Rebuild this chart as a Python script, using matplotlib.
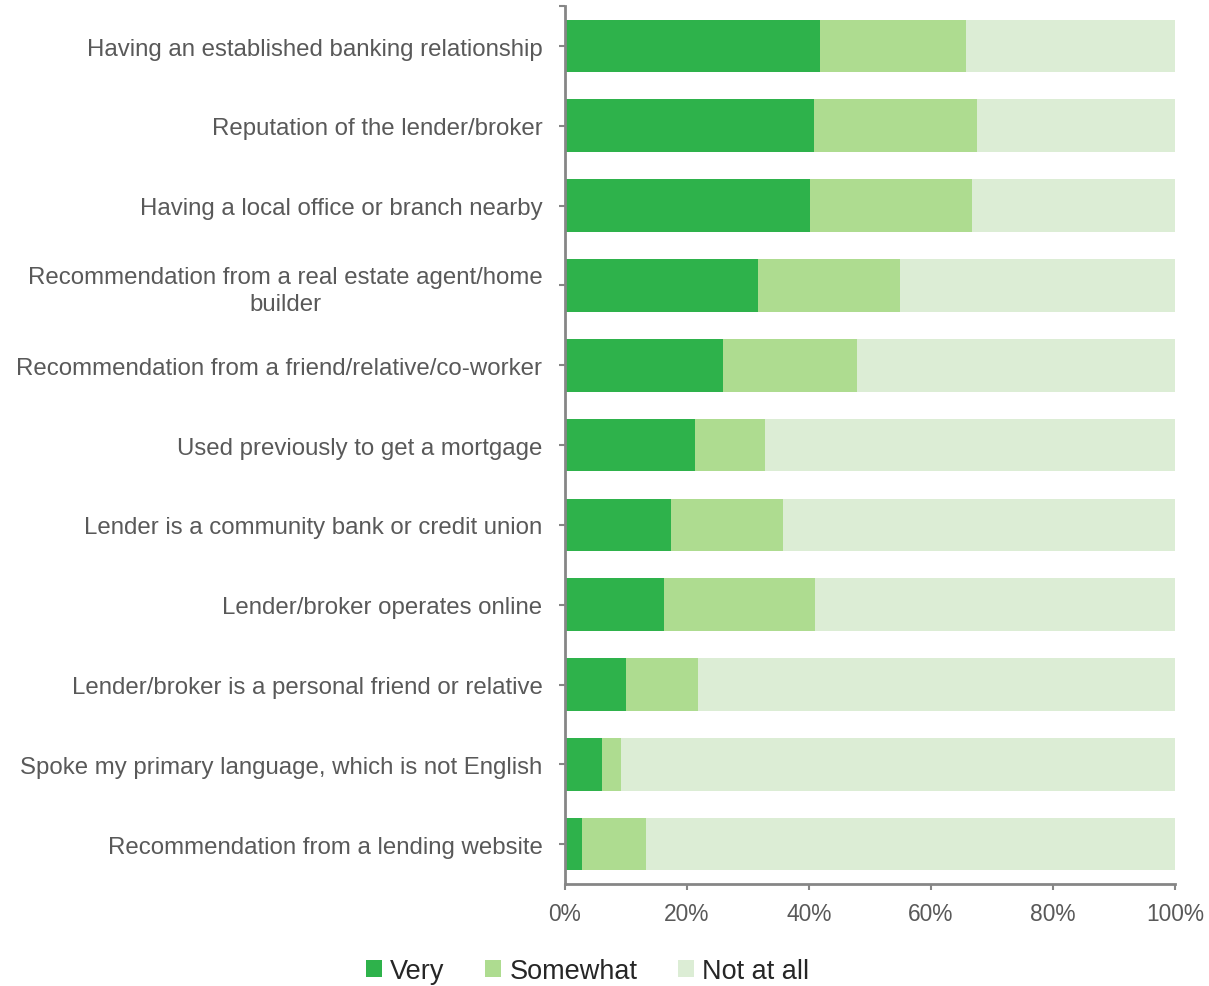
import matplotlib
matplotlib.use("Agg")
import matplotlib.pyplot as plt
import numpy as np

plt.rcParams["font.family"] = ["Liberation Sans", "DejaVu Sans"]

categories = [
    "Having an established banking relationship",
    "Reputation of the lender/broker",
    "Having a local office or branch nearby",
    "Recommendation from a real estate agent/home\nbuilder",
    "Recommendation from a friend/relative/co-worker",
    "Used previously to get a mortgage",
    "Lender is a community bank or credit union",
    "Lender/broker operates online",
    "Lender/broker is a personal friend or relative",
    "Spoke my primary language, which is not English",
    "Recommendation from a lending website",
]
very = [41.8, 40.8, 40.2, 31.6, 25.9, 21.3, 17.4, 16.2, 10.0, 6.1, 2.8]
somewhat = [23.9, 26.7, 26.5, 23.3, 22.0, 11.5, 18.3, 24.8, 11.8, 3.2, 10.5]
not_at_all = [100 - v - s for v, s in zip(very, somewhat)]

series = [("Very", very, "#2eb24b"),
          ("Somewhat", somewhat, "#aedc90"),
          ("Not at all", not_at_all, "#dcedd5")]

fig = plt.figure(figsize=(12.09, 9.87), dpi=100)
ax = fig.add_axes([0.467, 0.1033, 0.505, 0.8895])

y = np.arange(len(categories))
left = np.zeros(len(categories))
for name, vals, color in series:
    vals = np.array(vals)
    ax.barh(y, vals, left=left, height=0.66, color=color, label=name)
    left += vals

ax.set_ylim(len(categories) - 0.5, -0.5)
ax.set_xlim(0, 100)
ax.set_yticks(y)
ax.set_yticks([-0.5], minor=True)
ax.set_yticklabels(categories, fontsize=17.3, color="#595959",
                   ha="right", multialignment="center", linespacing=1.3)
ax.set_xticks(np.arange(0, 101, 20))
ax.set_xticklabels([f"{v}%" for v in range(0, 101, 20)], fontsize=16.4, color="#595959")
ax.tick_params(axis="both", which="both", length=4, width=1.5, color="#868686")
ax.tick_params(axis="y", pad=12)
ax.tick_params(axis="x", pad=9)

for side in ("top", "right"):
    ax.spines[side].set_visible(False)
for side in ("left", "bottom"):
    ax.spines[side].set_color("#868686")
    ax.spines[side].set_linewidth(2)

fig.legend(loc="center", bbox_to_anchor=(0.486, 0.015), ncol=3, frameon=False,
           fontsize=19.5, handlelength=0.6, handleheight=0.6, handletextpad=0.3,
           columnspacing=1.5, labelcolor="#262626")

fig.savefig("out.png", dpi=100)
